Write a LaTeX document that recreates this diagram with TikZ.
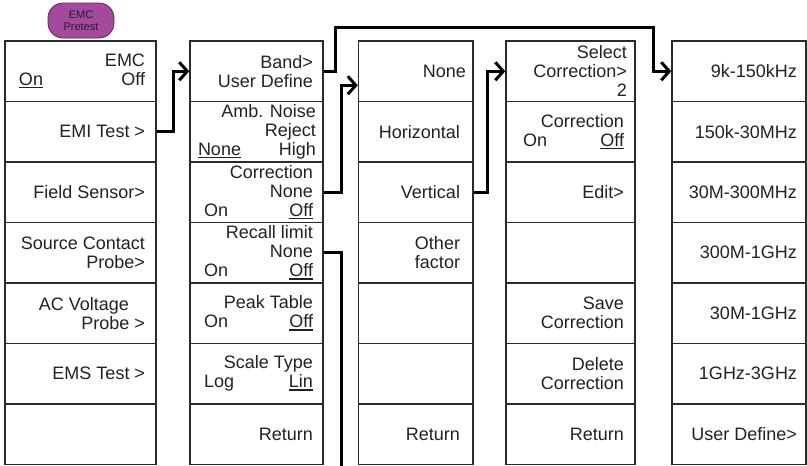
\documentclass[tikz,border=0pt]{standalone}
\usepackage{fontspec}
\setmainfont{Liberation Sans}
\usetikzlibrary{arrows.meta}
\definecolor{boxc}{HTML}{2B2B2B}
\definecolor{txt}{HTML}{222222}
\definecolor{emcfill}{RGB}{163,73,158}
\definecolor{emcline}{RGB}{90,40,90}
\newcommand{\myul}[1]{\leavevmode\setbox0\hbox{#1}\rlap{\rule[-2.6pt]{\wd0}{1.1pt}}\box0}
\begin{document}
\begin{tikzpicture}[x=1pt,y=-1pt,
 cell/.style={draw=boxc, line width=1.4pt, minimum height=60.5pt, inner ysep=0pt, align=flush right, text=txt, font=\fontsize{18}{19}\selectfont},
 colA/.style={cell, inner xsep=11pt, text width=129pt},
 colB/.style={cell, inner xsep=10pt, text width=113pt},
 colC/.style={cell, inner xsep=13pt, text width=88.5pt},
 colD/.style={cell, inner xsep=11pt, text width=107pt},
 colE/.style={cell, inner xsep=9pt, text width=116pt},
 conn/.style={line width=3pt, black, -{Straight Barb[length=8pt,width=18pt]}},
 plainline/.style={line width=3pt, black},
 pill/.style={draw=emcline, fill=emcfill, line width=0.8pt, rounded corners=15pt, minimum width=66pt, minimum height=35pt, inner sep=0pt, align=center, text=txt, font=\fontsize{11}{11.5}\selectfont}
]
\fill[white] (0,0) rectangle (807,466);
\useasboundingbox (0,0) rectangle (807,466);

\node[pill] (emc) at (81,20.5) {EMC\\Pretest};

% column 1
\node[colA] (c1r1) at (80.5,71.25) {EMC\\\hspace*{3pt}\myul{On}\hfill Off};
\node[colA] (c1r2) at (80.5,131.75) {EMI Test >};
\node[colA] (c1r3) at (80.5,192.25) {Field Sensor>};
\node[colA] (c1r4) at (80.5,252.75) {Source Contact\\Probe>};
\node[colA] (c1r5) at (80.5,313.25) {AC Voltage\kern16pt\\Probe >};
\node[colA] (c1r6) at (80.5,373.75) {EMS Test >};
\node[colA] (c1r7) at (80.5,434.25) {};

% column 2
\node[colB] (c2r1) at (256.5,71.25) {Band>\\User Define};
\node[colB, inner xsep=7pt, text width=119pt] (c2r2) at (256.5,131.75) {Amb. Noise\\Reject\\\hspace*{1pt}\myul{None}\hfill High};
\node[colB] (c2r3) at (256.5,192.25) {Correction\\None\\\hspace*{4pt}On\hfill\myul{Off}};
\node[colB] (c2r4) at (256.5,252.75) {Recall limit\\None\\\hspace*{4pt}On\hfill\myul{Off}};
\node[colB] (c2r5) at (256.5,313.25) {Peak Table\\\hspace*{4pt}On\hfill\myul{Off}};
\node[colB] (c2r6) at (256.5,373.75) {Scale Type\\\hspace*{4pt}Log\hfill\myul{Lin}};
\node[colB] (c2r7) at (256.5,434.25) {Return};

% column 3
\node[colC] (c3r1) at (415.75,71.25) {None\kern-6pt};
\node[colC] (c3r2) at (415.75,131.75) {Horizontal};
\node[colC] (c3r3) at (415.75,192.25) {Vertical};
\node[colC] (c3r4) at (415.75,252.75) {Other\\factor};
\node[colC] (c3r5) at (415.75,313.25) {};
\node[colC] (c3r6) at (415.75,373.75) {};
\node[colC] (c3r7) at (415.75,434.25) {Return};

% column 4
\node[colD, inner xsep=8pt, text width=113pt] (c4r1) at (570.5,71.25) {Select\\Correction>\\2};
\node[colD] (c4r2) at (570.5,131.75) {Correction\\\hspace*{6pt}On\hfill\myul{Off}};
\node[colD] (c4r3) at (570.5,192.25) {Edit>};
\node[colD] (c4r4) at (570.5,252.75) {};
\node[colD] (c4r5) at (570.5,313.25) {Save\\Correction};
\node[colD] (c4r6) at (570.5,373.75) {Delete\\Correction};
\node[colD] (c4r7) at (570.5,434.25) {Return};

% column 5
\node[colE] (c5r1) at (739,71.25) {9k-150kHz};
\node[colE] (c5r2) at (739,131.75) {150k-30MHz};
\node[colE] (c5r3) at (739,192.25) {30M-300MHz};
\node[colE] (c5r4) at (739,252.75) {300M-1GHz};
\node[colE] (c5r5) at (739,313.25) {30M-1GHz};
\node[colE] (c5r6) at (739,373.75) {1GHz-3GHz};
\node[colE] (c5r7) at (739,434.25) {User Define>};

% connectors
\coordinate (b2) at (335,27);
\coordinate (end5) at (341,470);
\draw[conn] (c1r2.east) -- ++(17,0) |- (c2r1.west);
\draw[conn] (c2r1.east) -| (b2) -| ([xshift=-18pt]c5r1.west) -- (c5r1.west);
\draw[conn] (c2r3.east) -- ++(18,0) |- ([yshift=-14pt]c3r1.west);
\draw[conn] (c3r3.east) -- ++(14,0) |- (c4r1.west);
\draw[plainline] (c2r4.east) -| (end5);
\end{tikzpicture}
\end{document}
